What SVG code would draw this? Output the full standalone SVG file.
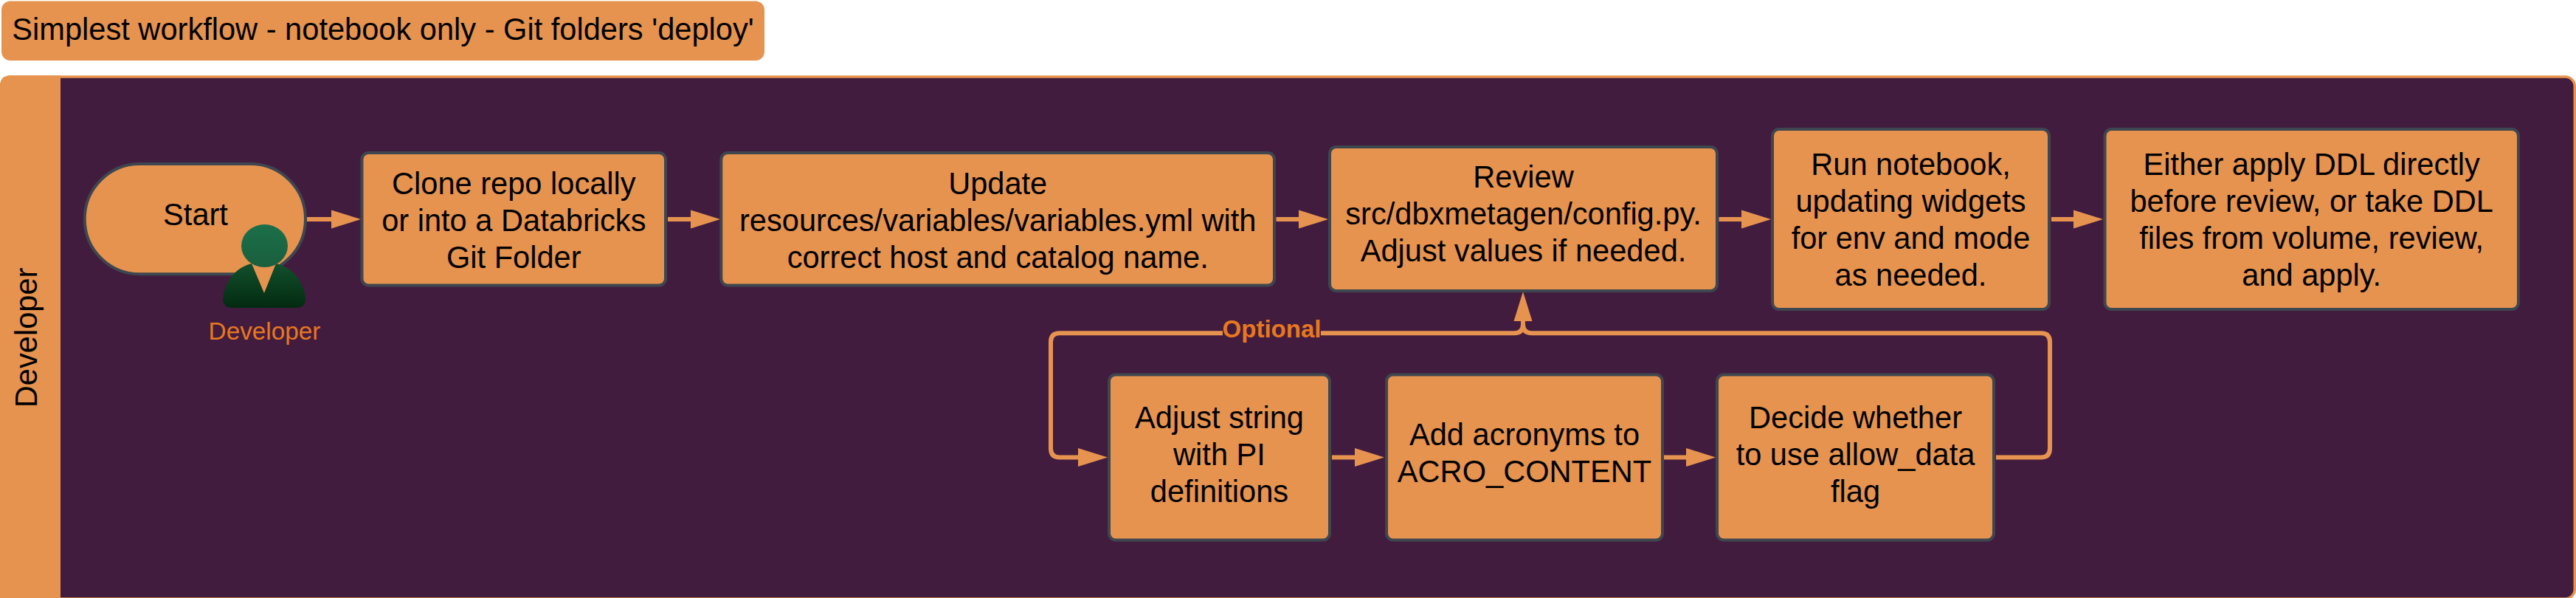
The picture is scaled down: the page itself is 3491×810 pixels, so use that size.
<svg xmlns="http://www.w3.org/2000/svg" width="3491" height="810" viewBox="0 0 3491 810">
<style>
text{font-family:"Liberation Sans",Arial,sans-serif;text-anchor:middle;fill:#000}
.t{font-size:41.6px}
.n{fill:#E6934F;stroke:#3E464F;stroke-width:4}
.c{fill:none;stroke:#E6934F;stroke-width:6}
.o{fill:#E8781F}
</style>
<defs>
<marker id="a" markerUnits="userSpaceOnUse" markerWidth="40" markerHeight="26" refX="0" refY="13" orient="auto"><path d="M0,.5L40,13L0,25.500Z" fill="#E6934F"/></marker>
<linearGradient id="h" x1="0" y1="0" x2="0" y2="1"><stop offset="0" stop-color="#1B6F49"/><stop offset="1" stop-color="#1A5F3D"/></linearGradient>
<linearGradient id="b" x1="0" y1="0" x2="0" y2="1"><stop offset="0" stop-color="#11502D"/><stop offset="1" stop-color="#032A10"/></linearGradient>
</defs>
<rect width="3491" height="810" fill="#fff"/>
<g id="title"><rect x="2" y="1.500" width="1034" height="80.500" rx="12" fill="#E6934F"/><text class="t" x="519" y="53.500">Simplest workflow - notebook only - Git folders 'deploy'</text></g>
<g id="pool">
<rect x="1.500" y="104" width="3487.800" height="707" rx="13" fill="#421C3F" stroke="#E6934F" stroke-width="3.500"/>
<path d="M82,102.300H14Q0,102.300 0,116.300V810H82Z" fill="#E6934F"/>
<text class="t" transform="translate(50 457.400) rotate(-90)">Developer</text>
</g>
<g id="connectors">
<path class="c" d="M416,297H449" marker-end="url(#a)"/>
<path class="c" d="M905,297H936" marker-end="url(#a)"/>
<path class="c" d="M1729.500,297H1760" marker-end="url(#a)"/>
<path class="c" d="M2329.500,297H2360" marker-end="url(#a)"/>
<path class="c" d="M2780,297H2810" marker-end="url(#a)"/>
<path class="c" d="M1805,619.500H1836" marker-end="url(#a)"/>
<path class="c" d="M2255,619.500H2285" marker-end="url(#a)"/>
<path class="c" d="M2705,619.500H2766Q2778,619.500 2778,607.500V463.300Q2778,451.300 2766,451.300H2076Q2064,451.300 2064,439.300V435" marker-end="url(#a)"/>
<path class="c" d="M2064,439.300Q2064,451.300 2052,451.300H1436Q1424,451.300 1424,463.300V607.500Q1424,619.500 1436,619.500H1461" marker-end="url(#a)"/>
<rect x="1657" y="440" width="133" height="24" fill="#421C3F"/>
<text x="1723.500" y="457" font-size="33" font-weight="bold" style="fill:#E8781F">Optional</text>
</g>
<g id="start"><rect class="n" x="114.700" y="222" width="299.300" height="149.300" rx="74.600"/><text class="t" x="265" y="305">Start</text></g>
<g id="clone"><rect class="n" x="490.500" y="207" width="411.500" height="179.500" rx="9"/><text class="t" x="696.300" y="262.500">Clone repo locally</text><text class="t" x="696.300" y="312.500">or into a Databricks</text><text class="t" x="696.300" y="362.500">Git Folder</text></g>
<g id="update"><rect class="n" x="977.300" y="207" width="749.700" height="179.500" rx="9"/><text class="t" x="1352.200" y="262.500">Update</text><text class="t" x="1352.200" y="312.500">resources/variables/variables.yml with</text><text class="t" x="1352.200" y="362.500">correct host and catalog name.</text></g>
<g id="review"><rect class="n" x="1802" y="199" width="525" height="195" rx="9"/><text class="t" x="2064.500" y="254.400">Review</text><text class="t" x="2064.500" y="304.400">src/dbxmetagen/config.py.</text><text class="t" x="2064.500" y="354.400">Adjust values if needed.</text></g>
<g id="run"><rect class="n" x="2402" y="175" width="375" height="244" rx="9"/><text class="t" x="2589.500" y="236.500">Run notebook,</text><text class="t" x="2589.500" y="286.500">updating widgets</text><text class="t" x="2589.500" y="336.500">for env and mode</text><text class="t" x="2589.500" y="386.500">as needed.</text></g>
<g id="either"><rect class="n" x="2852.500" y="175" width="560.500" height="244" rx="9"/><text class="t" x="3132.700" y="236.500">Either apply DDL directly</text><text class="t" x="3132.700" y="286.500">before review, or take DDL</text><text class="t" x="3132.700" y="336.500">files from volume, review,</text><text class="t" x="3132.700" y="386.500">and apply.</text></g>
<g id="adjust"><rect class="n" x="1503" y="507.500" width="299" height="224" rx="9"/><text class="t" x="1652.500" y="579.500">Adjust string</text><text class="t" x="1652.500" y="629.500">with PI</text><text class="t" x="1652.500" y="679.500">definitions</text></g>
<g id="acronyms"><rect class="n" x="1879" y="507.500" width="374" height="224" rx="9"/><text class="t" x="2066" y="602.500">Add acronyms to</text><text class="t" x="2066" y="652.500">ACRO_CONTENT</text></g>
<g id="decide"><rect class="n" x="2327" y="507.500" width="375" height="224" rx="9"/><text class="t" x="2514.500" y="579.500">Decide whether</text><text class="t" x="2514.500" y="629.500">to use allow_data</text><text class="t" x="2514.500" y="679.500">flag</text></g>
<g id="developer">
<path d="M302,404C305,380 320,362 341,357H374C396,362 411,380 414,404Q414,417 401,417H315Q302,417 302,404Z" fill="url(#b)"/>
<path d="M341,357L358,397L374,357Z" fill="#E6934F"/>
<ellipse cx="358.500" cy="333" rx="31.500" ry="29" fill="url(#h)"/>
<text x="358.500" y="460" font-size="33.300" style="fill:#E8781F">Developer</text>
</g>
</svg>
